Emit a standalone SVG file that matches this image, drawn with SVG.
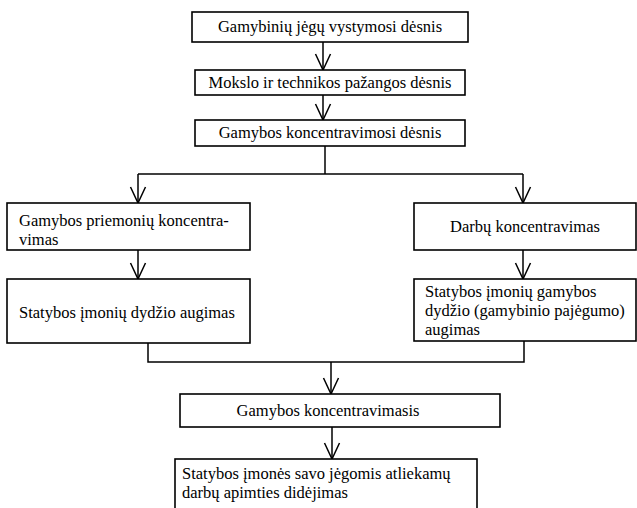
<svg xmlns="http://www.w3.org/2000/svg" width="637" height="508" viewBox="0 0 637 508">
<style>
.box{fill:#fff;stroke:#000;stroke-width:1.6}
text{font-family:'Liberation Serif','DejaVu Serif',serif;font-size:16.5px;fill:#000}
.c{text-anchor:middle}
.ln{fill:none;stroke:#000;stroke-width:1.5}
</style>
<defs>
<marker id="v" markerWidth="18" markerHeight="18" refX="17" refY="8.5" orient="auto" markerUnits="userSpaceOnUse" viewBox="0 0 18 17">
<path d="M1 1 L17 8.5 L1 16" fill="none" stroke="#000" stroke-width="1.5"/>
</marker>
</defs>
<rect width="637" height="508" fill="#fff"/>
<g id="connectors">
<line class="ln" x1="323" y1="42" x2="323" y2="70" marker-end="url(#v)"/>
<line class="ln" x1="323" y1="95" x2="323" y2="120" marker-end="url(#v)"/>
<polyline class="ln" points="325,146 325,174"/>
<polyline class="ln" points="138,174 523,174"/>
<line class="ln" x1="138" y1="174" x2="138" y2="203" marker-end="url(#v)"/>
<line class="ln" x1="523" y1="174" x2="523" y2="203" marker-end="url(#v)"/>
<line class="ln" x1="138" y1="250" x2="138" y2="279" marker-end="url(#v)"/>
<line class="ln" x1="523" y1="250" x2="523" y2="279" marker-end="url(#v)"/>
<polyline class="ln" points="148,343 148,362 524,362 524,341"/>
<line class="ln" x1="331" y1="362" x2="331" y2="394" marker-end="url(#v)"/>
<line class="ln" x1="332" y1="427" x2="332" y2="459" marker-end="url(#v)"/>
</g>
<g id="n1"><rect class="box" x="192" y="12" width="276" height="30"/><text class="c" x="330" y="32">Gamybinių jėgų vystymosi dėsnis</text></g>
<g id="n2"><rect class="box" x="195" y="70" width="270" height="25"/><text class="c" x="330" y="88">Mokslo ir technikos pažangos dėsnis</text></g>
<g id="n3"><rect class="box" x="195" y="120" width="270" height="26"/><text class="c" x="330" y="138">Gamybos koncentravimosi dėsnis</text></g>
<g id="n4"><rect class="box" x="7" y="203" width="243" height="47"/><text x="19" y="226">Gamybos priemonių koncentra-</text><text x="19" y="245">vimas</text></g>
<g id="n5"><rect class="box" x="7" y="279" width="243" height="64"/><text x="19" y="318">Statybos įmonių dydžio augimas</text></g>
<g id="n6"><rect class="box" x="414" y="203" width="222" height="47"/><text class="c" x="525" y="232">Darbų koncentravimas</text></g>
<g id="n7"><rect class="box" x="414" y="279" width="222" height="62"/><text x="425" y="297">Statybos įmonių gamybos</text><text x="425" y="316">dydžio (gamybinio pajėgumo)</text><text x="425" y="335">augimas</text></g>
<g id="n8"><rect class="box" x="180" y="394" width="320" height="33"/><text class="c" x="328" y="416">Gamybos koncentravimasis</text></g>
<g id="n9"><rect class="box" x="175" y="459" width="302" height="60"/><text x="182" y="479">Statybos įmonės savo jėgomis atliekamų</text><text x="182" y="498">darbų apimties didėjimas</text></g>
</svg>
